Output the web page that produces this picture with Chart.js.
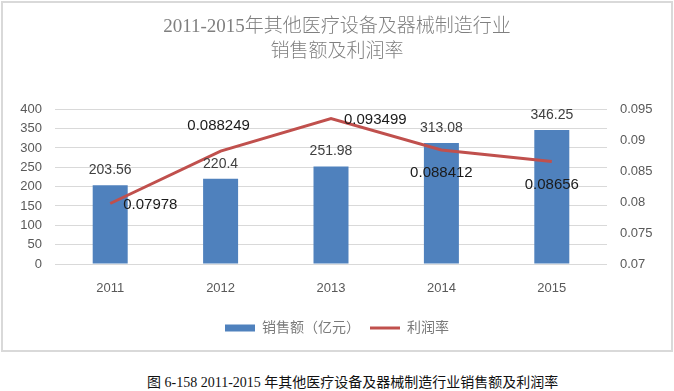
<!DOCTYPE html>
<html>
<head>
<meta charset="utf-8">
<script src="https://cdn.jsdelivr.net/npm/chart.js@4/dist/chart.umd.min.js"></script>
<style>
  body { margin: 0; background: #fff; width: 674px; height: 391px; position: relative; overflow: hidden; }
  #box { position: absolute; left: 1px; top: 1px; width: 668px; height: 347px; border: 2px solid #d9d9d9; }
  #caption {
    position: absolute; left: 147px; top: 371px; white-space: nowrap;
    font: 14px "Liberation Serif", "Noto Sans CJK SC", serif; color: #111;
  }
</style>
</head>
<body>
<div id="box"><canvas id="chart" width="668" height="347"></canvas></div>
<div id="caption">图 6-158 2011-2015 年其他医疗设备及器械制造行业销售额及利润率</div>
<script>
// ===== data =====
const years = ["2011", "2012", "2013", "2014", "2015"];
const sales = [203.56, 220.4, 251.98, 313.08, 346.25];   // 销售额（亿元）
const profitRate = [0.07978, 0.088249, 0.093499, 0.088412, 0.08656];
const leftTicks = [0, 50, 100, 150, 200, 250, 300, 350, 400];
const rightTicks = [0.07, 0.075, 0.08, 0.085, 0.09, 0.095];

// where each profit label sits relative to its point
const rateLabelPos = ["right", "above", "right", "below", "below"];

const grayText = "#595959";
const sansFont = "'Liberation Sans', 'Noto Sans CJK SC', sans-serif";

// draw value labels on bars and line
const valueLabels = {
  id: "valueLabels",
  afterDatasetsDraw(chart) {
    const ctx = chart.ctx;
    ctx.save();
    const bars = chart.getDatasetMeta(0).data;
    ctx.font = "14px " + sansFont;
    ctx.fillStyle = "#404040";
    ctx.textAlign = "center";
    ctx.textBaseline = "middle";
    bars.forEach((b, i) => {
      ctx.fillText(String(sales[i]), b.x, b.y - 15);
    });

    const pts = chart.getDatasetMeta(1).data;
    ctx.font = "15px " + sansFont;
    ctx.fillStyle = "#1a1a1a";
    pts.forEach((p, i) => {
      const txt = String(profitRate[i]);
      const pos = rateLabelPos[i];
      if (pos === "right") {
        ctx.textAlign = "left";
        ctx.fillText(txt, p.x + 13, p.y + 1);
      } else if (pos === "above") {
        ctx.textAlign = "center";
        ctx.fillText(txt, p.x - 2, p.y - 25);
      } else {
        ctx.textAlign = "center";
        ctx.fillText(txt, p.x, p.y + 23);
      }
    });
    ctx.restore();
  }
};

const baseLabels = Chart.defaults.plugins.legend.labels.generateLabels;

new Chart(document.getElementById("chart"), {
  type: "bar",
  data: {
    labels: years,
    datasets: [
      {
        type: "bar",
        label: "销售额（亿元）",
        data: sales,
        backgroundColor: "#4F81BD",
        yAxisID: "y",
        order: 2,
        barPercentage: 0.317,
        categoryPercentage: 1
      },
      {
        type: "line",
        label: "利润率",
        data: profitRate,
        borderColor: "#C0504D",
        backgroundColor: "#C0504D",
        borderWidth: 3,
        pointRadius: 0,
        tension: 0,
        yAxisID: "y1",
        order: 1
      }
    ]
  },
  options: {
    responsive: false,
    animation: false,
    layout: { padding: { top: 0, bottom: 5, left: 0, right: 0 } },
    plugins: {
      tooltip: { enabled: false },
      title: {
        display: true,
        text: ["2011-2015年其他医疗设备及器械制造行业", "销售额及利润率"],
        color: "#7f7f7f",
        font: { family: "'Liberation Serif', 'Noto Sans CJK SC', serif", size: 19, weight: 300, lineHeight: 1.35 },
        padding: { top: 11, bottom: 44 }
      },
      legend: {
        position: "bottom",
        labels: {
          usePointStyle: true,
          pointStyleWidth: 30,
          boxHeight: 7,
          padding: 10,
          color: "#7a7a7a",
          font: { family: sansFont, size: 14 },
          sort: (a, b) => a.datasetIndex - b.datasetIndex,
          generateLabels(chart) {
            return baseLabels(chart).map((item) => {
              if (item.datasetIndex === 0) {
                item.pointStyle = "rect";
                item.lineWidth = 0;
              } else {
                item.pointStyle = "line";
                item.lineWidth = 3;
                item.strokeStyle = "#C0504D";
              }
              return item;
            });
          }
        }
      }
    },
    scales: {
      x: {
        grid: { display: false, drawTicks: false },
        border: { display: false },
        ticks: { color: grayText, font: { family: sansFont, size: 13 }, padding: 17 },
        afterFit(axis) { axis.height = 47; }
      },
      y: {
        position: "left",
        min: 0,
        max: 400,
        afterBuildTicks(axis) { axis.ticks = leftTicks.map((v) => ({ value: v })); },
        grid: { color: "#d9d9d9", drawTicks: false },
        border: { display: false },
        ticks: { color: grayText, font: { family: sansFont, size: 13 }, padding: 13 },
        afterFit(axis) { axis.width = 52; }
      },
      y1: {
        position: "right",
        min: 0.07,
        max: 0.095,
        afterBuildTicks(axis) { axis.ticks = rightTicks.map((v) => ({ value: v })); },
        grid: { drawOnChartArea: false, drawTicks: false },
        border: { display: false },
        ticks: {
          color: grayText,
          font: { family: sansFont, size: 13 },
          padding: 13,
          callback: (v) => String(+v.toFixed(3))
        },
        afterFit(axis) { axis.width = 64; }
      }
    }
  },
  plugins: [valueLabels]
});
</script>
</body>
</html>
